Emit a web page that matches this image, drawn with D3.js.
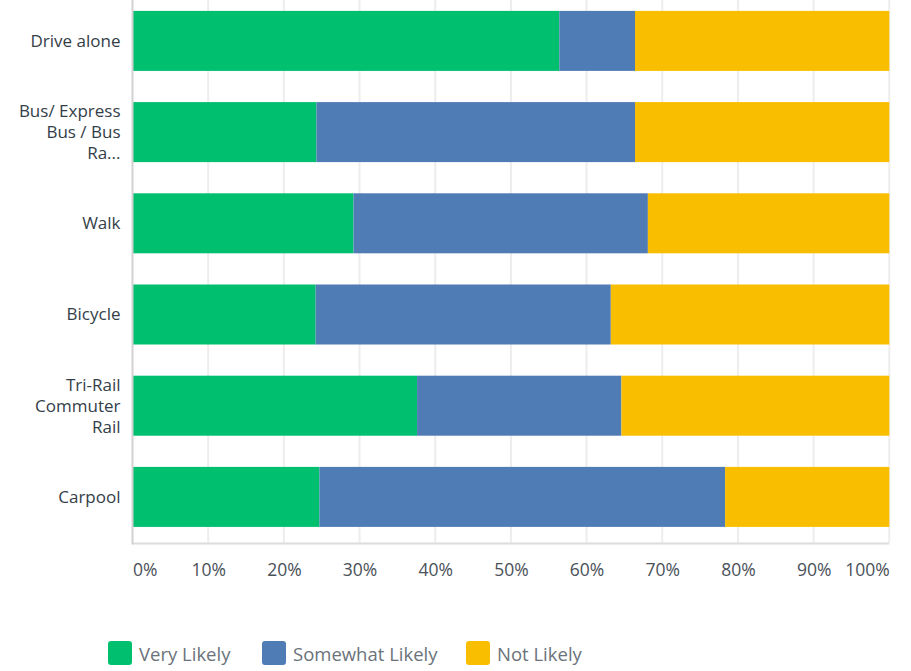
<!DOCTYPE html>
<html>
<head>
<meta charset="utf-8">
<script src="https://cdn.jsdelivr.net/npm/d3@7"></script>
<style>
  html, body { margin: 0; padding: 0; background: #fff; }
  svg { display: block; font-family: "Open Sans", "Noto Sans", sans-serif; }
</style>
</head>
<body>
<svg id="chart" width="911" height="671"></svg>
<script>
// Survey responses: likelihood of using each travel mode (percent of respondents)
const categories = [
  "Drive alone",
  "Bus/ Express Bus / Bus Ra...",
  "Walk",
  "Bicycle",
  "Tri-Rail Commuter Rail",
  "Carpool"
];
const seriesNames = ["Very Likely", "Somewhat Likely", "Not Likely"];
const veryLikely     = [56.4, 24.3, 29.2, 24.2, 37.6, 24.7];
const somewhatLikely = [10.0, 42.1, 38.9, 39.0, 27.0, 53.6];
const notLikely      = [33.6, 33.6, 31.9, 36.8, 35.4, 21.7];
const tickValues = [0, 10, 20, 30, 40, 50, 60, 70, 80, 90, 100];
const seriesColors = ["#00bf6f", "#507cb6", "#f9be00"];

const rows = categories.map((c, i) => ({
  category: c,
  "Very Likely": veryLikely[i],
  "Somewhat Likely": somewhatLikely[i],
  "Not Likely": notLikely[i]
}));

const svg = d3.select("#chart");
const plotLeft = 132.5, plotRight = 889.3, plotTop = -4.7, plotBottom = 542.5;

const x = d3.scaleLinear().domain([0, 100]).range([plotLeft, plotRight]);
const y = d3.scaleBand().domain(categories).range([plotTop, plotBottom])
  .paddingInner(0.342).paddingOuter(0.171);
const color = d3.scaleOrdinal().domain(seriesNames).range(seriesColors);

// vertical gridlines
svg.append("g").selectAll("line")
  .data(tickValues.slice(1))
  .join("line")
  .attr("x1", d => x(d)).attr("x2", d => x(d))
  .attr("y1", 0).attr("y2", plotBottom)
  .attr("stroke", "#ededed").attr("stroke-width", 2);

// stacked bars
const stacked = d3.stack().keys(seriesNames)(rows);
svg.append("g").selectAll("g")
  .data(stacked)
  .join("g")
  .attr("fill", d => color(d.key))
  .selectAll("rect")
  .data(d => d)
  .join("rect")
  .attr("x", d => x(d[0]))
  .attr("width", d => x(d[1]) - x(d[0]))
  .attr("y", d => y(d.data.category))
  .attr("height", y.bandwidth());

// axis frame lines
svg.append("line")
  .attr("x1", plotLeft).attr("x2", plotRight).attr("y1", plotBottom + 1).attr("y2", plotBottom + 1)
  .attr("stroke", "#dcdcdc").attr("stroke-width", 2);
svg.append("line")
  .attr("x1", plotLeft).attr("x2", plotLeft).attr("y1", 0).attr("y2", plotBottom + 2)
  .attr("stroke", "#d2d2d2").attr("stroke-width", 2);

// bottom axis labels
const xAxis = d3.axisBottom(x).tickValues(tickValues).tickSize(0).tickPadding(0)
  .tickFormat(d => d + "%");
const gx = svg.append("g").attr("transform", `translate(0,${plotBottom + 21})`).call(xAxis);
gx.select(".domain").remove();
gx.selectAll("text")
  .attr("font-family", "\"Open Sans\", sans-serif")
  .attr("font-size", 17.5)
  .attr("fill", "#4a5159")
  .attr("text-anchor", (d, i) => i === 0 ? "start" : (i === tickValues.length - 1 ? "end" : "middle"));

// category labels, wrapped to a fixed width
const labelX = plotLeft - 12;
const lineH = 21;
const yLabels = svg.append("g").selectAll("text")
  .data(categories)
  .join("text")
  .attr("x", labelX)
  .attr("text-anchor", "end")
  .attr("font-size", 17)
  .attr("fill", "#333e48");

yLabels.each(function (d) {
  const t = d3.select(this);
  const words = d.split(" ");
  const lines = [];
  let line = [];
  const probe = t.append("tspan");
  words.forEach(w => {
    line.push(w);
    probe.text(line.join(" "));
    if (probe.node().getComputedTextLength() > 110 && line.length > 1) {
      line.pop();
      lines.push(line.join(" "));
      line = [w];
    }
  });
  lines.push(line.join(" "));
  probe.remove();
  const cy = y(d) + y.bandwidth() / 2;
  const y0 = cy - (lines.length - 1) * lineH / 2;
  lines.forEach((l, i) => {
    t.append("tspan").attr("x", labelX).attr("y", y0 + i * lineH)
      .attr("dy", "0.35em").text(l);
  });
});

// legend
const legendItems = [
  { name: "Very Likely", x: 108 },
  { name: "Somewhat Likely", x: 262 },
  { name: "Not Likely", x: 466 }
];
const lg = svg.append("g").selectAll("g")
  .data(legendItems)
  .join("g")
  .attr("transform", d => `translate(${d.x},641)`);
lg.append("rect")
  .attr("width", 24).attr("height", 24).attr("rx", 3)
  .attr("fill", d => color(d.name));
lg.append("text")
  .attr("x", 31).attr("y", 14).attr("dy", "0.35em")
  .attr("font-size", 18.5)
  .attr("fill", "#6b737a")
  .text(d => d.name);
</script>
</body>
</html>
